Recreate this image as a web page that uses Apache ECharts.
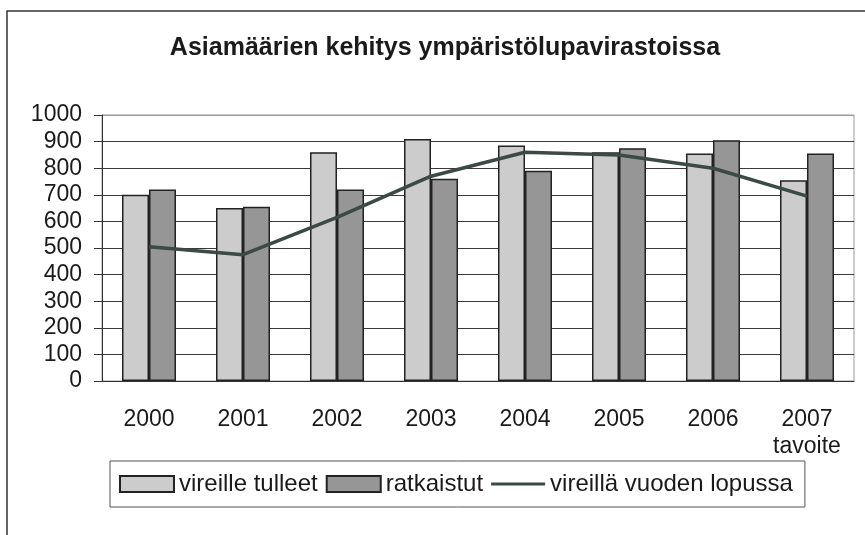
<!DOCTYPE html>
<html>
<head>
<meta charset="utf-8">
<script src="https://cdn.jsdelivr.net/npm/echarts@6/dist/echarts.min.js"></script>
<style>
  html, body { margin: 0; padding: 0; background: #fff; }
  #chart { width: 865px; height: 535px; }
</style>
</head>
<body>
<div id="chart"></div>
<script>
var years = ['2000', '2001', '2002', '2003', '2004', '2005', '2006', '2007\ntavoite'];
var vireilleTulleet = [700, 650, 860, 910, 885, 860, 855, 755];
var ratkaistut = [720, 655, 720, 760, 790, 875, 905, 855];
var vireillaLopussa = [505, 475, 615, 770, 860, 850, 800, 695];
var yTicks = [0, 100, 200, 300, 400, 500, 600, 700, 800, 900, 1000];

var font = '"Liberation Sans", Arial, sans-serif';
var gridColors = yTicks.map(function (v) { return v === 1000 ? '#999' : '#3a3a3a'; });

var myChart = echarts.init(document.getElementById('chart'), null, { renderer: 'canvas' });
var option = {
    animation: false,
    backgroundColor: '#fff',
    textStyle: { fontFamily: font },
    title: {
        text: 'Asiamäärien kehitys ympäristölupavirastoissa',
        left: 440,
        top: 31,
        textAlign: 'center',
        textStyle: { fontFamily: font, fontSize: 25, fontWeight: 'bold', color: '#1a1a1a' }
    },
    graphic: [{
        type: 'rect',
        shape: { x: 7, y: 11, width: 1000, height: 1000 },
        style: { fill: null, stroke: '#333', lineWidth: 1.5 },
        silent: true
    }],
    grid: {
        left: 102, right: 11, top: 115, bottom: 154,
        show: true, borderColor: '#999', borderWidth: 1, backgroundColor: 'transparent'
    },
    legend: {
        left: 110,
        top: 461,
        padding: [11, 12, 11, 9],
        itemGap: 8,
        itemWidth: 54,
        itemHeight: 16,
        borderColor: '#555',
        borderWidth: 1,
        textStyle: { fontFamily: font, fontSize: 24, color: '#1a1a1a', lineHeight: 22 },
        data: [
            { name: 'vireille tulleet', icon: 'rect' },
            { name: 'ratkaistut', icon: 'rect' },
            { name: 'vireillä vuoden lopussa', icon: 'path://M0,0M0,6.5h54v3h-54zM54,16' }
        ]
    },
    xAxis: [{
        type: 'category',
        data: years,
        axisLine: { lineStyle: { color: '#333', width: 1 } },
        axisTick: { length: 7, lineStyle: { color: '#333' } },
        axisLabel: { fontSize: 23, color: '#1a1a1a', margin: 25, lineHeight: 27 }
    }, {
        type: 'category',
        data: years,
        position: 'bottom',
        axisLine: { show: false },
        axisTick: { inside: true, length: 7, lineStyle: { color: '#333' } },
        axisLabel: { show: false }
    }],
    yAxis: {
        type: 'value',
        min: 0,
        max: 1000,
        interval: 100,
        axisLine: { show: true, lineStyle: { color: '#333', width: 1 } },
        axisTick: { show: true, length: 8, lineStyle: { color: '#333' } },
        axisLabel: {
            fontSize: 23, color: '#1a1a1a', margin: 20,
            formatter: function (v) { return String(v); }
        },
        splitLine: { lineStyle: { color: gridColors, width: 1 } }
    },
    series: [{
        name: 'vireille tulleet',
        type: 'bar',
        data: vireilleTulleet,
        barWidth: 27,
        barGap: '0%',
        itemStyle: { color: '#cccccc', borderColor: '#222', borderWidth: 1.5 }
    }, {
        name: 'ratkaistut',
        type: 'bar',
        data: ratkaistut,
        barWidth: 27,
        barGap: '0%',
        itemStyle: { color: '#969696', borderColor: '#222', borderWidth: 1.5 }
    }, {
        name: 'vireillä vuoden lopussa',
        type: 'line',
        data: vireillaLopussa,
        symbol: 'none',
        z: 5,
        lineStyle: { color: '#3b4947', width: 3.5 },
        itemStyle: { color: '#3b4947' }
    }]
};
myChart.setOption(option);
</script>
</body>
</html>
